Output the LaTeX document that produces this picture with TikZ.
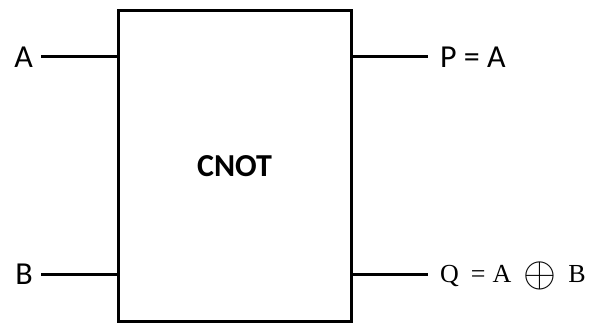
\documentclass[tikz,border=0pt]{standalone}
\usepackage{fontspec}
\usepackage{graphicx}
\setmainfont{Carlito}
\newfontfamily\eqfont{Liberation Serif}
\usetikzlibrary{positioning}

\begin{document}
\begin{tikzpicture}[
  x=1pt, y=-1pt,
  font=\fontsize{32}{38}\selectfont,
  gatebox/.style={
    draw=black,
    line width=3pt,
    minimum width=233pt,
    minimum height=310pt,
    font=\fontsize{32}{38}\selectfont\bfseries
  },
  inlabel/.style={inner xsep=8pt, inner ysep=0pt, anchor=east},
  outlabel/.style={inner xsep=12pt, inner ysep=0pt, anchor=west},
  wire/.style={line width=3pt, draw=black}
]
\useasboundingbox (0,0) rectangle (591,323);

\node[gatebox] (cnot) at (234.5,166) {CNOT};

\node[inlabel] (ina) at (41,57) {A};
\node[inlabel] (inb) at (41,274) {B};
\node[outlabel] (outp) at (428,57) {P = A};
\node[outlabel, text height=17pt, text depth=0pt] (outq) at (428,274)
  {\eqfont\fontsize{26}{30}\selectfont Q\kern12pt=\kern7pt A\kern12pt\raisebox{-4pt}[0pt][0pt]{\scalebox{1.7}{$\oplus$}}\kern12pt B};

\draw[wire] (ina.east) -- (ina.east -| cnot.west);
\draw[wire] (inb.east) -- (inb.east -| cnot.west);
\draw[wire] (outp.west -| cnot.east) -- (outp.west);
\draw[wire] (outq.west -| cnot.east) -- (outq.west);
\end{tikzpicture}
\end{document}
